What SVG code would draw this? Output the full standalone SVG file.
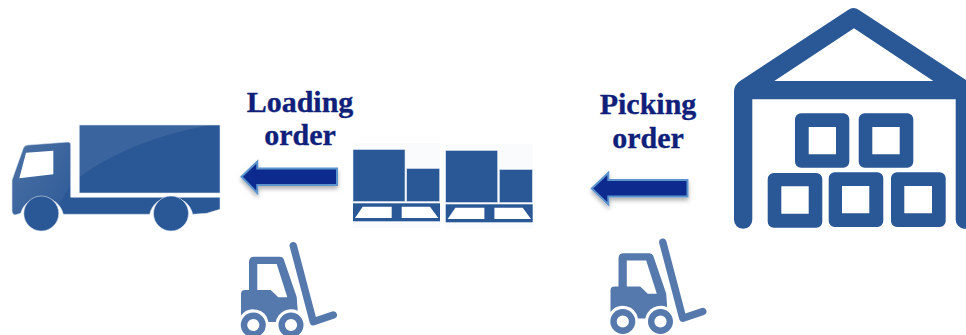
<svg xmlns="http://www.w3.org/2000/svg" xmlns:xlink="http://www.w3.org/1999/xlink" width="966" height="335" viewBox="0 0 966 335">
<style>
.b{fill:#2a5795}
.h{fill:#fff}
.lab{font-family:"Liberation Serif","Times New Roman",serif;font-weight:700;font-size:30px;fill:#0f1f7a;stroke:#0f1f7a;stroke-width:.35;text-anchor:middle}
.arr{fill:#0b2b8e;stroke:#5b93cc;stroke-width:2;filter:url(#sh)}
.pbg{fill:#fafbfc}
.halo{stroke:#dbe4f0;stroke-width:.6}
.fk{fill:#5679ad}
.fs{fill:none;stroke:#5679ad}
</style>
<defs>
<filter id="sh" x="-20%" y="-40%" width="140%" height="200%"><feDropShadow dx="0" dy="3" stdDeviation="2.2" flood-color="#000" flood-opacity=".3"/></filter>
<linearGradient id="gc" x1="0" y1="0" x2="1" y2="1"><stop offset="0" stop-color="#fff" stop-opacity=".16"/><stop offset="1" stop-color="#fff" stop-opacity=".01"/></linearGradient>
<g id="fork">
<path class="fk" fill-rule="evenodd" d="M241,294Q241,290 245,290L249,290L249,262Q249,256.7 254,256.7L280,256.7Q283,256.7 284,260L296.7,297L297.7,310.7A15.5,15.5 0 0 0 275.8,322H268.5A15.5,15.5 0 0 0 241,315.5ZM257.3,264L276.7,264L287.3,297.3L278.3,297.3L270.7,290L257.3,290Z"/>
<circle class="fs" cx="253.3" cy="325" r="9.3" stroke-width="6.4"/>
<circle class="fs" cx="291" cy="325" r="9.3" stroke-width="6.4"/>
<path class="fs" d="M293.3,245.7L313.3,321.7L333.3,315" stroke-width="7.4" stroke-linecap="round" stroke-linejoin="round"/>
</g>
<g id="pallet">
<rect class="pbg" x="353" y="143" width="87" height="85"/>
<rect class="b halo" x="353" y="149.5" width="52" height="52"/>
<rect class="b halo" x="406.7" y="168.5" width="33" height="33"/>
<rect class="b" x="353" y="203.3" width="87" height="18"/>
<path class="h" d="M355,218L362.7,206.7L391.7,206.7L391.7,218ZM401.7,206.7L430,206.7L438.3,218L401.7,218Z"/>
</g>
</defs>
<rect width="966" height="335" fill="#fff"/>
<g id="truck">
<path class="b halo" d="M79.3,125H220V193H79.3Z"/>
<path fill="#fff" opacity=".08" d="M79.3,125H210Q130,140 79.3,177Z"/>
<path class="b halo" d="M12,180L23.3,148.3Q25,145 28,145L68,142Q70.7,142 70.7,145V197.3H220V209.3L206.7,213.3L192.7,214.3A22,22 0 0 0 149.7,214.3H63.3A22,22 0 0 0 20.7,213.3L15,215Q12,214 12,211Z"/>
<path fill="url(#gc)" d="M12,180L23.3,148.3Q25,145 28,145L68,142Q70.7,142 70.7,145V185L45,227L20.7,213.3L15,215Q12,214 12,211Z"/>
<path class="h" d="M26,152.7L53.3,150.7V174.3L19.3,178.3Z"/>
<circle class="b halo" cx="41.3" cy="213.5" r="17.5"/>
<circle class="b halo" cx="171" cy="213.5" r="17.5"/>
</g>
<g id="forklift-left"><use xlink:href="#fork" href="#fork"/></g>
<g id="forklift-right"><use xlink:href="#fork" href="#fork" transform="translate(369.5,-3.5)"/></g>
<g id="pallet-left"><use xlink:href="#pallet" href="#pallet"/></g>
<g id="pallet-right"><use xlink:href="#pallet" href="#pallet" transform="translate(92.7,1)"/></g>
<g id="warehouse">
<path class="b" fill-rule="evenodd" d="M734,92Q734,85 740,81L848,10Q853.5,6 859,10L966,80V228.7H964A9,9 0 0 1 955.7,219.7V99.3H752.3V219.7A9.15,9.15 0 0 1 734,219.7ZM774.3,81H933.3L854,28.3Z"/>
<g class="b" fill-rule="evenodd">
<path d="M801,113.3H843.3a6,6 0 0 1 6,6V161.7a6,6 0 0 1 -6,6H801a6,6 0 0 1 -6,-6V119.3a6,6 0 0 1 6,-6ZM808.7,127V154.3H836V127Z"/>
<path d="M864.7,113.3H907.3a6,6 0 0 1 6,6V161.7a6,6 0 0 1 -6,6H864.7a6,6 0 0 1 -6,-6V119.3a6,6 0 0 1 6,-6ZM872.3,127V154.3H899.7V127Z"/>
<path d="M773.7,173H816.3a6,6 0 0 1 6,6V221.7a6,6 0 0 1 -6,6H773.7a6,6 0 0 1 -6,-6V179a6,6 0 0 1 6,-6ZM781.3,186.3V213.7H808.7V186.3Z"/>
<path d="M834.7,172.3H877.3a6,6 0 0 1 6,6V221a6,6 0 0 1 -6,6H834.7a6,6 0 0 1 -6,-6V178.3a6,6 0 0 1 6,-6ZM842,186V213.3H869.3V186Z"/>
<path d="M897,172.3H939.7a6,6 0 0 1 6,6V221a6,6 0 0 1 -6,6H897a6,6 0 0 1 -6,-6V178.3a6,6 0 0 1 6,-6ZM904.3,186V213.3H932V186Z"/>
</g>
</g>
<g id="connectors">
<path class="arr" d="M241.5,176.7L257.3,161.5V168.5H337V185H257.3V193Z"/>
<path class="arr" d="M591.8,188.5L608.3,172.8V180H687.5V196.5H608.3V204.5Z"/>
</g>
<g id="label-loading"><text class="lab" x="300" y="111.5">Loading</text><text class="lab" x="300" y="145">order</text></g>
<g id="label-picking"><text class="lab" x="648" y="113.5">Picking</text><text class="lab" x="648" y="148">order</text></g>
</svg>
